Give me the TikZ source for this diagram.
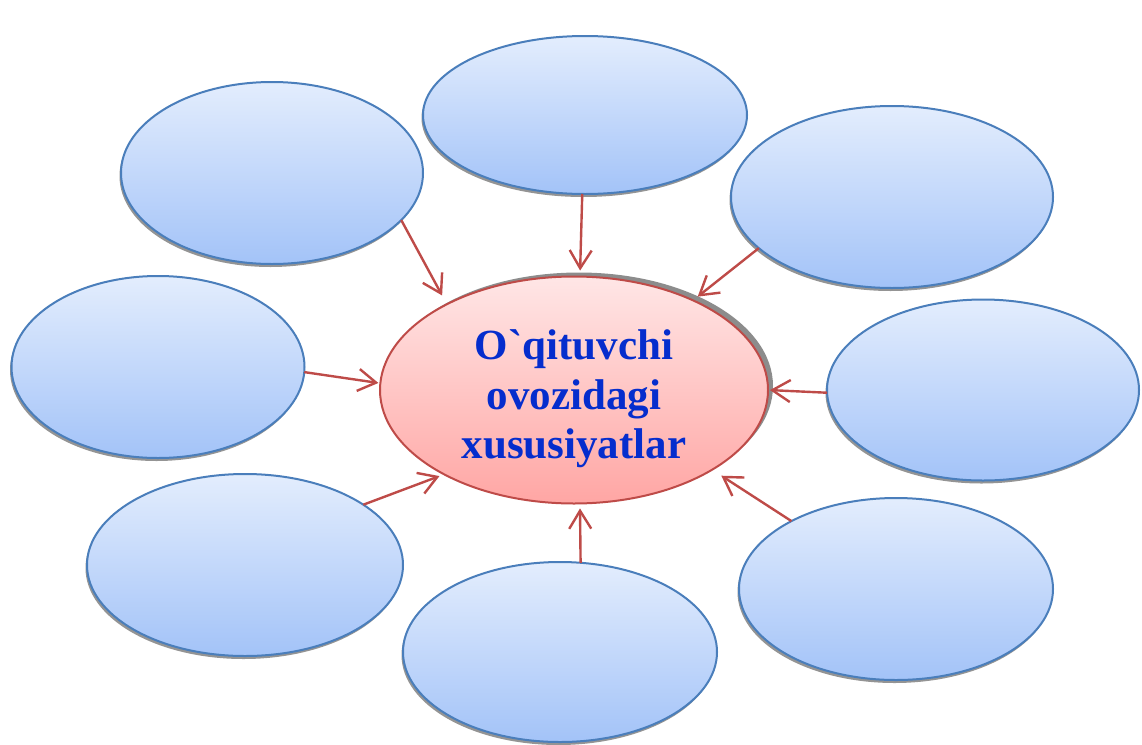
\documentclass[tikz,border=0pt]{standalone}
\usepackage{fontspec}
\setmainfont{Liberation Serif}
\newfontfamily\ctext[Ligatures=TeXOff]{Liberation Serif}
\usetikzlibrary{arrows.meta,shadows,shapes.geometric}
\definecolor{bluetop}{HTML}{E3EDFD}
\definecolor{bluebot}{HTML}{A3C3F8}
\definecolor{blueline}{HTML}{4A7EBB}
\definecolor{redtop}{HTML}{FFE6E6}
\definecolor{redbot}{HTML}{FFA6A4}
\definecolor{redline}{HTML}{BE4B48}
\definecolor{txtblue}{RGB}{5,45,205}
\tikzset{
  bubble/.style={ellipse, draw=blueline, line width=2pt, top color=bluetop, bottom color=bluebot,
    inner sep=0pt, outer sep=0pt,
    drop shadow={shadow xshift=-1.5pt, shadow yshift=-3pt, fill=black!42, opacity=1}},
  hub/.style={ellipse, draw=redline, line width=2pt, top color=redtop, bottom color=redbot,
    inner sep=0pt, outer sep=0pt,
    drop shadow={shadow xshift=5pt, shadow yshift=4pt, fill=black!45, opacity=1}},
  hubtext/.style={align=center, text=txtblue, inner sep=0pt,
    font=\ctext\bfseries\fontsize{43}{49.5}\selectfont},
  link/.style={draw=redline, line width=2.4pt, -{Straight Barb[length=18pt,width=22pt,line width=2.4pt]}}
}
\begin{document}
\begin{tikzpicture}[x=1pt,y=-1pt]
\useasboundingbox (0,0) rectangle (1142,744);
\node[bubble, minimum width=302pt, minimum height=182pt] (tl) at (272,173) {};
\node[bubble, minimum width=324pt, minimum height=158pt] (t) at (585,115) {};
\node[bubble, minimum width=322pt, minimum height=182pt] (tr) at (892,197) {};
\node[bubble, minimum width=293pt, minimum height=182pt] (l) at (158,367) {};
\node[bubble, minimum width=312pt, minimum height=181pt] (r) at (983,390) {};
\node[bubble, minimum width=316pt, minimum height=182pt] (bl) at (245,565) {};
\node[bubble, minimum width=314pt, minimum height=180pt] (b) at (560,652) {};
\node[bubble, minimum width=314pt, minimum height=182pt] (br) at (896,589) {};
\node[hub, minimum width=388pt, minimum height=227pt] (c) at (574,390) {};
\node[hubtext] (ct) at (574,399) {O`qituvchi\\ovozidagi\\xususiyatlar};
\draw[link, shorten >=10pt] (tl.-20.8) -- (c.146.5);
\draw[link, shorten >=6pt] (t.-92.2) -- (c.87.6);
\draw[link, shorten >=6pt] (tr.201.9) -- (c.37.1);
\draw[link, shorten >=2pt] (l.-2) -- (c.178);
\draw[link, shorten >=2pt] (r.181) -- (c.-0.6);
\draw[link, shorten >=5pt] (bl.27.1) -- (c.213.1);
\draw[link, shorten >=5pt] (b.77.5) -- (c.-87);
\draw[link, shorten >=11pt] (br.147.6) -- (c.-30.1);
\end{tikzpicture}
\end{document}
